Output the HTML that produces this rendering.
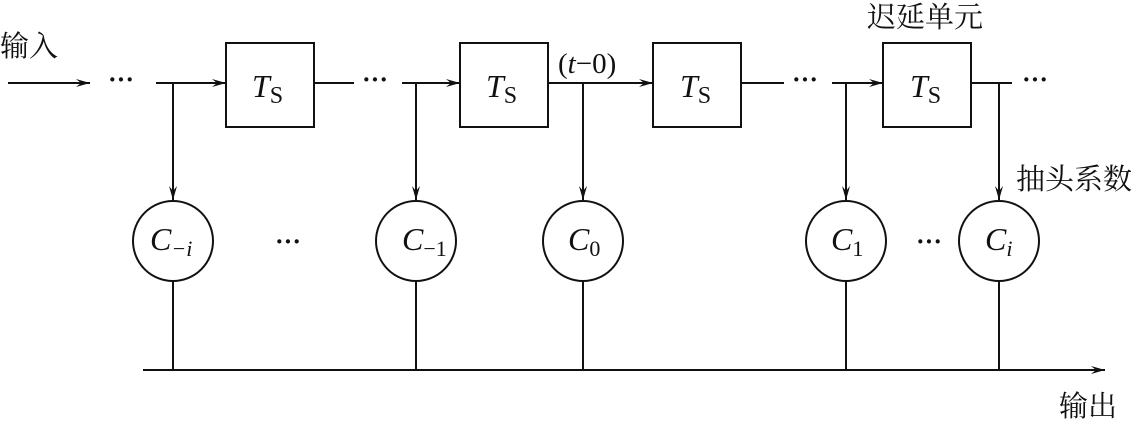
<!DOCTYPE html>
<html><head><meta charset="utf-8"><style>
html,body{margin:0;padding:0;background:#fff;}
svg{display:block}
text{font-family:"Liberation Serif","Noto Serif CJK SC",serif;fill:#111}
.cj{font-family:"Liberation Serif","Noto Serif CJK SC",serif;font-size:29px}
.it{font-style:italic}
</style></head><body>
<svg width="1139" height="421" viewBox="0 0 1139 421" xmlns="http://www.w3.org/2000/svg">
<defs><marker id="a" viewBox="0 0 14 8" refX="14" refY="4" markerWidth="14" markerHeight="8" markerUnits="userSpaceOnUse" orient="auto"><path d="M0,0 L14,4 L0,8 L5,4z" fill="#111"/></marker></defs>
<g stroke="#111" stroke-width="2" fill="none">
<line x1="8" y1="83" x2="90" y2="83" marker-end="url(#a)"/>
<line x1="156" y1="83" x2="226" y2="83" marker-end="url(#a)"/>
<rect x="226" y="43" width="88" height="84"/>
<line x1="314" y1="83" x2="354" y2="83"/>
<line x1="402" y1="83" x2="460" y2="83" marker-end="url(#a)"/>
<rect x="460" y="43" width="88" height="84"/>
<line x1="548" y1="83" x2="653" y2="83" marker-end="url(#a)"/>
<rect x="653" y="43" width="88" height="84"/>
<line x1="741" y1="83" x2="784" y2="83"/>
<line x1="832" y1="83" x2="883" y2="83" marker-end="url(#a)"/>
<rect x="883" y="43" width="88" height="84"/>
<line x1="971" y1="83" x2="1012" y2="83"/>
<line x1="173" y1="83" x2="173" y2="200" marker-end="url(#a)"/>
<line x1="416" y1="83" x2="416" y2="200" marker-end="url(#a)"/>
<line x1="583" y1="83" x2="583" y2="200" marker-end="url(#a)"/>
<line x1="846" y1="83" x2="846" y2="200" marker-end="url(#a)"/>
<line x1="999" y1="83" x2="999" y2="200" marker-end="url(#a)"/>
<circle cx="173" cy="241" r="40"/>
<circle cx="416" cy="241" r="40"/>
<circle cx="583" cy="241" r="40"/>
<circle cx="846" cy="241" r="40"/>
<circle cx="999" cy="241" r="40"/>
<line x1="173" y1="281" x2="173" y2="370"/>
<line x1="416" y1="281" x2="416" y2="370"/>
<line x1="583" y1="281" x2="583" y2="370"/>
<line x1="846" y1="281" x2="846" y2="370"/>
<line x1="999" y1="281" x2="999" y2="370"/>
<line x1="143" y1="370" x2="1105" y2="370" marker-end="url(#a)"/>
</g>
<g font-size="26" font-weight="bold">
<text x="108" y="88">···</text><text x="362" y="88">···</text><text x="792" y="88">···</text><text x="1022" y="88">···</text>
<text x="275" y="250">···</text><text x="916" y="250">···</text>
</g>
<g font-size="32">
<text x="252" y="97" class="it">T<tspan font-style="normal" font-size="24" dy="6">S</tspan></text>
<text x="486" y="97" class="it">T<tspan font-style="normal" font-size="24" dy="6">S</tspan></text>
<text x="680" y="97" class="it">T<tspan font-style="normal" font-size="24" dy="6">S</tspan></text>
<text x="910" y="97" class="it">T<tspan font-style="normal" font-size="24" dy="6">S</tspan></text>
<text x="150" y="250" class="it">C<tspan font-size="22" dy="6">−i</tspan></text>
<text x="402" y="250" class="it">C<tspan font-style="normal" font-size="22" dy="6">−1</tspan></text>
<text x="568" y="250" class="it">C<tspan font-style="normal" font-size="22" dy="6">0</tspan></text>
<text x="831" y="250" class="it">C<tspan font-style="normal" font-size="22" dy="6">1</tspan></text>
<text x="985" y="250" class="it">C<tspan font-size="22" dy="6">i</tspan></text>
</g>
<text x="558" y="73" font-size="29">(<tspan class="it">t</tspan>−0)</text>
<text x="0" y="56" class="cj">输入</text>
<text x="867" y="27" class="cj">迟延单元</text>
<text x="1016" y="189" class="cj">抽头系数</text>
<text x="1059" y="416" class="cj">输出</text>
</svg>
</body></html>
